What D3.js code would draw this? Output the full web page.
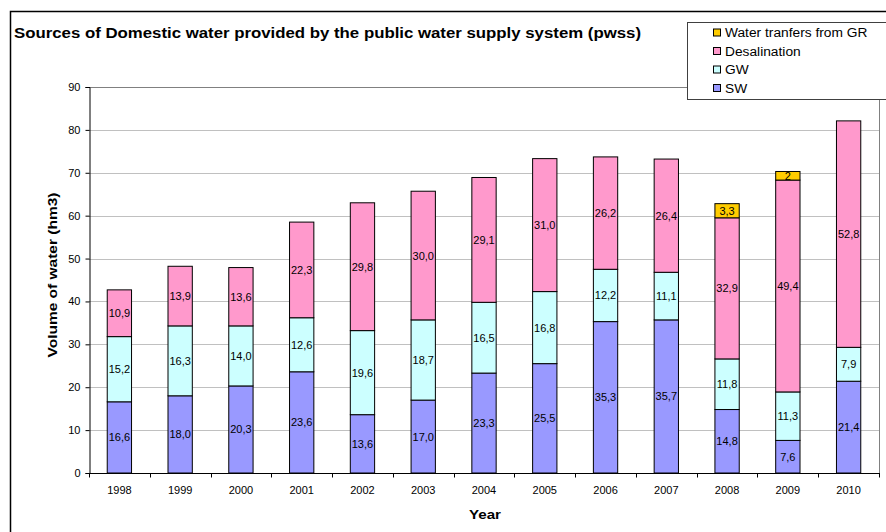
<!DOCTYPE html>
<html><head><meta charset="utf-8">
<script src="https://cdn.jsdelivr.net/npm/d3@7"></script>
<style>html,body{margin:0;padding:0;background:#fff;}svg{display:block;font-family:"Liberation Sans",Arial,sans-serif;}</style>
</head><body>
<svg id="c" width="886" height="532"></svg>
<script>
const years = ["1998","1999","2000","2001","2002","2003","2004","2005","2006","2007","2008","2009","2010"];
const swValues = [16.6,18.0,20.3,23.6,13.6,17.0,23.3,25.5,35.3,35.7,14.8,7.6,21.4];
const gwValues = [15.2,16.3,14.0,12.6,19.6,18.7,16.5,16.8,12.2,11.1,11.8,11.3,7.9];
const desalValues = [10.9,13.9,13.6,22.3,29.8,30.0,29.1,31.0,26.2,26.4,32.9,49.4,52.8];
const grValues = [0,0,0,0,0,0,0,0,0,0,3.3,2,0];
const seriesNames = ["SW","GW","Desalination","Water tranfers from GR"];
const seriesColors = ["#9999ff","#ccffff","#ff99cc","#ffcc00"];
const yTicks = [0,10,20,30,40,50,60,70,80,90];
const title = "Sources of Domestic water provided by the public water supply system (pwss)";
const yTitle = "Volume of water (hm3)";
const xTitle = "Year";

const svg = d3.select("#c");
const M = {left:89, right:879, top:87, bottom:473};
const seriesValues = [swValues, gwValues, desalValues, grValues];

// outer chart border
svg.append("path").attr("d",`M10.5,560 V11.5 H900`).attr("fill","none").attr("stroke","#000").attr("stroke-width",1.5);

const x = d3.scaleBand().domain(years).range([M.left,M.right]).paddingInner(0.6).paddingOuter(0.3);
const y = d3.scaleLinear().domain([0,90]).range([M.bottom,M.top]);

// gridlines
svg.append("g").selectAll("line").data(yTicks.filter(d=>d>0&&d<90)).join("line")
  .attr("x1",M.left).attr("x2",M.right).attr("y1",d=>Math.round(y(d))+0.5).attr("y2",d=>Math.round(y(d))+0.5)
  .attr("stroke","#c0c0c0").attr("stroke-width",1);
// plot area border top/right
svg.append("path").attr("d",`M${M.left},${Math.round(y(90))+0.5} H${M.right+0.5} V${M.bottom}`)
  .attr("fill","none").attr("stroke","#808080").attr("stroke-width",1);

// stack
const rows = years.map((yr,i)=>({year:yr, SW:swValues[i], GW:gwValues[i], "Desalination":desalValues[i], "Water tranfers from GR":grValues[i]}));
const stack = d3.stack().keys(seriesNames)(rows);
const fmt1 = v => d3.format(".1f")(v).replace(".",",");
const fmtG = v => String(v).replace(".",",");

const gBars = svg.append("g");
stack.forEach((s,si)=>{
  const g = gBars.append("g");
  s.forEach((d,i)=>{
    const v = seriesValues[si][i];
    if (v<=0) return;
    g.append("rect").attr("x",x(years[i])).attr("width",x.bandwidth())
      .attr("y",y(d[1])).attr("height",y(d[0])-y(d[1]))
      .attr("fill",seriesColors[si]).attr("stroke","#000").attr("stroke-width",1);
  });
});
stack.forEach((s,si)=>{
  s.forEach((d,i)=>{
    const v = seriesValues[si][i];
    if (v<=0) return;
    svg.append("text").attr("x",x(years[i])+x.bandwidth()/2).attr("y",(y(d[0])+y(d[1]))/2)
      .attr("dy","0.36em").attr("text-anchor","middle").attr("font-size",11).attr("fill","#000")
      .text(si===3?fmtG(v):fmt1(v));
  });
});

// y axis
const yAxis = d3.axisLeft(y).tickValues(yTicks).tickSize(4).tickPadding(5);
const ga = svg.append("g").attr("transform",`translate(${M.left+0.5},0)`).call(yAxis);
ga.select(".domain").attr("stroke","#000");
ga.selectAll(".tick line").attr("stroke","#000");
ga.selectAll("text").attr("font-size",11).attr("font-family","Liberation Sans, Arial").attr("fill","#000");

// x axis with ticks between categories
const gx = svg.append("g").attr("transform",`translate(0,${M.bottom+0.5})`);
gx.append("line").attr("x1",M.left).attr("x2",M.right+1).attr("stroke","#000");
const bounds = d3.range(years.length+1).map(i=>M.left + i*(M.right-M.left)/years.length);
gx.selectAll(".t").data(bounds).join("line").attr("x1",d=>Math.round(d)+0.5).attr("x2",d=>Math.round(d)+0.5)
  .attr("y1",0).attr("y2",4).attr("stroke","#000");
gx.selectAll("text").data(years).join("text").attr("x",d=>x(d)+x.bandwidth()/2).attr("y",17)
  .attr("dy","0.36em").attr("text-anchor","middle").attr("font-size",11).text(d=>d);

// titles
svg.append("text").attr("x",14).attr("y",38).attr("font-size",14.5).attr("font-weight","bold")
  .attr("textLength",627).attr("lengthAdjust","spacingAndGlyphs").text(title);
svg.append("text").attr("transform",`translate(57,275) rotate(-90)`).attr("text-anchor","middle")
  .attr("font-size",13).attr("font-weight","bold").attr("textLength",165).attr("lengthAdjust","spacingAndGlyphs").text(yTitle);
svg.append("text").attr("x",485).attr("y",519).attr("text-anchor","middle")
  .attr("font-size",12.5).attr("font-weight","bold").attr("textLength",32).attr("lengthAdjust","spacingAndGlyphs").text(xTitle);

// legend
const lg = svg.append("g");
lg.append("rect").attr("x",687.5).attr("y",22.5).attr("width",240).attr("height",77).attr("fill","#fff").attr("stroke","#404040").attr("stroke-width",1);
const legendOrder = [3,2,1,0];
legendOrder.forEach((si,k)=>{
  const cy = 32.5 + k*18.5;
  lg.append("rect").attr("x",713.5).attr("y",cy-3.5).attr("width",7).attr("height",7).attr("fill",seriesColors[si]).attr("stroke","#000").attr("stroke-width",1);
  const t = lg.append("text").attr("x",725).attr("y",cy).attr("dy","0.36em").attr("font-size",12.5).text(seriesNames[si]);
  const w = t.node().getComputedTextLength();
  t.attr("textLength", w*1.1).attr("lengthAdjust","spacingAndGlyphs");
});
</script>
</body></html>
